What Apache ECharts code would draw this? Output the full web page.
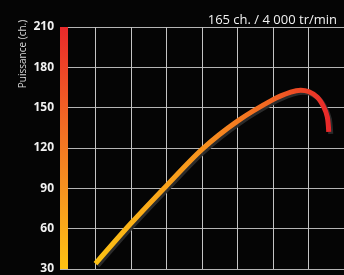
<!DOCTYPE html>
<html>
<head>
<meta charset="utf-8">
<script src="https://cdn.jsdelivr.net/npm/echarts@6/dist/echarts.min.js"></script>
<style>
  html, body { margin: 0; padding: 0; background: #050505; }
  #chart { width: 344px; height: 275px; }
</style>
</head>
<body>
<div id="chart"></div>
<script>
// courbe de puissance
const rpmSteps = [1.0, 2.0, 3.0, 4.0, 5.0, 6.0, 6.5, 6.78, 7.0, 7.25, 7.43, 7.53, 7.57];
const power = [34, 64, 92, 119, 140, 156, 161.5, 163, 162, 157.8, 150.5, 143, 132];
const yTicks = [30, 60, 90, 120, 150, 180, 210];
const titleText = '165 ch. / 4 000 tr/min';
const yName = 'Puissance (ch.)';

const chart = echarts.init(document.getElementById('chart'));

let points = rpmSteps.map((x, i) => [x, power[i]]);

let option = {
    backgroundColor: '#050505',
    animation: false,
    title: {
        text: titleText,
        right: 2,
        top: 9,
        textStyle: {
            color: '#f2f2f2',
            fontFamily: 'Open Sans',
            fontWeight: 'normal',
            fontSize: 13
        }
    },
    graphic: [{
        type: 'text',
        x: 23,
        y: 54,
        rotation: Math.PI / 2,
        style: {
            text: yName,
            fill: '#d8d8d8',
            font: '10px "Open Sans"',
            align: 'center',
            verticalAlign: 'middle'
        }
    }],
    grid: {
        left: 60,
        right: 0,
        top: 27,
        bottom: 2
    },
    xAxis: {
        type: 'value',
        min: 0,
        max: 8,
        interval: 1,
        axisLine: { show: false },
        axisTick: { show: false },
        axisLabel: { show: false },
        splitLine: { lineStyle: { color: '#c4c4c4', width: 1 } }
    },
    yAxis: {
        type: 'value',
        min: yTicks[0],
        max: yTicks[yTicks.length - 1],
        interval: 30,
        offset: -4,
        axisLine: {
            show: true,
            lineStyle: {
                width: 8,
                cap: 'butt',
                color: new echarts.graphic.LinearGradient(0, 0, 0, 1, [
                    { offset: 0, color: '#e8262a' },
                    { offset: 0.4, color: '#f26a24' },
                    { offset: 0.7, color: '#f7981f' },
                    { offset: 1, color: '#fdc513' }
                ])
            }
        },
        axisTick: { show: false },
        axisLabel: {
            margin: 10,
            color: '#f2f2f2',
            fontFamily: 'Open Sans',
            fontWeight: 'bold',
            fontSize: 12
        },
        splitLine: { lineStyle: { color: '#b4b4b4', width: 1 } }
    },
    series: [{
        type: 'line',
        data: points,
        smooth: 0.3,
        symbol: 'none',
        lineStyle: {
            width: 5,
            cap: 'butt',
            color: new echarts.graphic.LinearGradient(0, 0, 1, 0, [
                { offset: 0, color: '#fdc313' },
                { offset: 0.45, color: '#f7931e' },
                { offset: 0.75, color: '#f26522' },
                { offset: 1, color: '#e8262a' }
            ]),
            shadowColor: 'rgba(45,45,45,0.95)',
            shadowBlur: 0,
            shadowOffsetX: 2,
            shadowOffsetY: 2
        }
    }]
};
chart.setOption(option);
</script>
</body>
</html>
